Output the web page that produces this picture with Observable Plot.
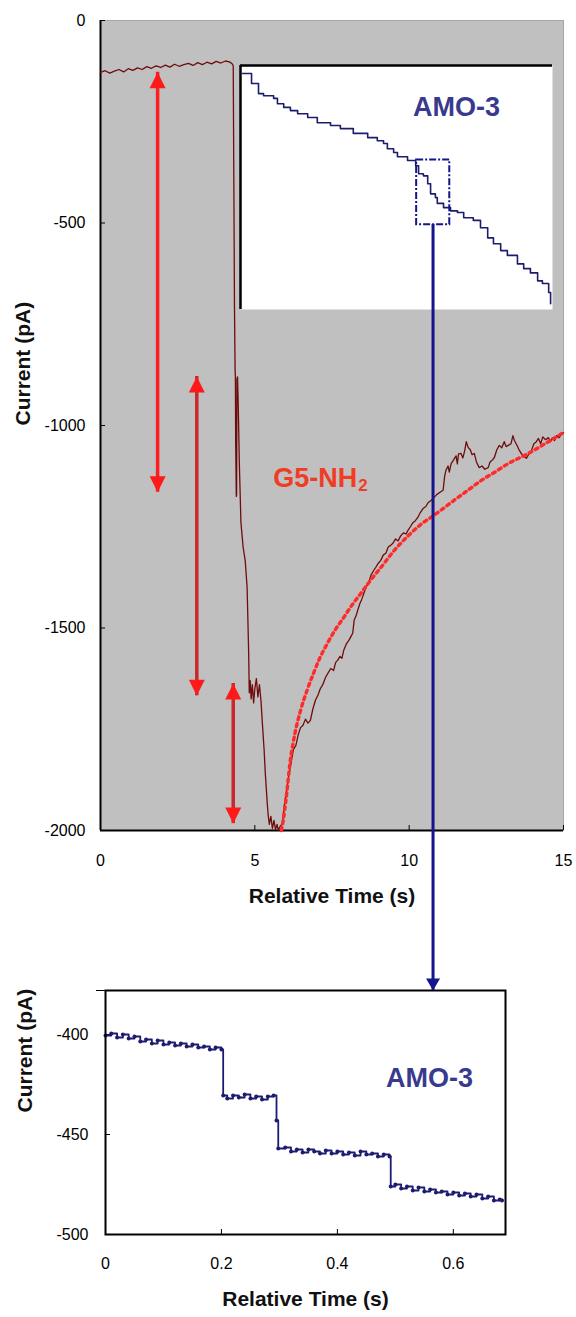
<!DOCTYPE html>
<html><head><meta charset="utf-8">
<script src="https://cdn.jsdelivr.net/npm/d3@7"></script>
<script src="https://cdn.jsdelivr.net/npm/@observablehq/plot@0.6"></script>
<style>
body{margin:0;background:#fff;}
#wrap{position:relative;width:576px;height:1317px;overflow:hidden;background:#fff;}
#wrap svg{position:absolute;}
</style></head><body><div id="wrap"></div>
<script>
// ---------- main trace (G5-NH2) ----------
const mainT = [0,0.15,0.3,0.45,0.6,0.75,0.9,1.05,1.2,1.35,1.5,1.65,1.8,1.95,2.1,2.25,2.4,2.55,2.7,2.85,3.0,3.15,3.3,3.45,3.6,3.75,3.9,4.05,4.2,4.28,
 4.30,4.32,4.34,4.36,4.37,4.38,4.40,4.41,4.42,4.44,4.46,4.50,4.55,4.62,4.69,4.75,4.80,4.82,4.85,4.88,4.92,4.96,5.00,5.05,5.10,5.15,5.20,5.24,5.30,5.34,5.40,5.43,5.47,5.52,5.57,5.62,5.67,5.72,5.76,5.82,5.89,5.95,
 6.02,6.09,6.18,6.25,6.33,6.40,6.48,6.56,6.64,6.72,6.80,6.88,6.96,7.05,7.12,7.20,7.29,7.38,7.46,7.55,7.62,7.68,7.76,7.82,7.88,7.96,8.05,8.12,8.17,8.22,8.28,8.33,8.40,8.46,8.53,8.60,8.68,8.76,8.85,8.92,9.00,9.08,9.16,9.25,9.32,9.40,9.48,9.56,9.64,9.73,9.82,9.90,9.96,
 10.04,10.12,10.20,10.28,10.36,10.45,10.54,10.62,10.71,10.80,10.90,11.00,11.10,11.15,11.19,11.26,11.30,11.36,11.44,11.52,11.56,11.60,11.68,11.74,11.80,11.85,11.91,11.98,12.04,12.11,12.18,12.27,12.36,12.45,12.56,12.62,12.70,12.76,12.84,12.92,13.00,13.08,13.14,13.21,13.30,13.36,13.41,13.50,13.56,13.63,13.70,13.80,13.88,13.96,14.04,14.12,14.19,14.26,14.33,14.42,14.51,14.58,14.64,14.71,14.78,14.86,14.94,15.00];
const mainV = [-128,-124,-130,-125,-121,-127,-119,-123,-117,-121,-114,-118,-112,-116,-110,-115,-108,-113,-109,-106,-111,-104,-109,-103,-107,-101,-105,-100,-103,-108,
 -112,-400,-700,-860,-880,-1050,-1175,-1170,-885,-880,-940,-1100,-1240,-1300,-1335,-1400,-1560,-1660,-1630,-1675,-1640,-1685,-1650,-1625,-1670,-1640,-1680,-1730,-1800,-1860,-1930,-1960,-1985,-1965,-1995,-1975,-1998,-1985,-1999,-1990,-1983,-1940,
 -1905,-1869,-1830,-1800,-1790,-1765,-1746,-1740,-1725,-1735,-1728,-1700,-1679,-1665,-1650,-1640,-1622,-1610,-1600,-1605,-1585,-1580,-1570,-1575,-1555,-1540,-1530,-1520,-1513,-1480,-1470,-1457,-1440,-1430,-1415,-1400,-1390,-1370,-1358,-1350,-1340,-1333,-1320,-1315,-1300,-1296,-1290,-1280,-1285,-1272,-1265,-1268,-1259,
 -1250,-1240,-1235,-1227,-1215,-1205,-1200,-1190,-1185,-1178,-1170,-1165,-1160,-1125,-1111,-1100,-1115,-1094,-1085,-1075,-1095,-1070,-1069,-1080,-1062,-1040,-1054,-1060,-1072,-1069,-1090,-1104,-1100,-1108,-1104,-1090,-1085,-1079,-1060,-1049,-1055,-1040,-1052,-1049,-1045,-1025,-1037,-1050,-1060,-1069,-1075,-1081,-1070,-1062,-1045,-1040,-1032,-1045,-1028,-1035,-1030,-1040,-1030,-1037,-1025,-1030,-1020,-1018];

// ---------- fitted recovery (dotted) ----------
const fitT = [5.86,5.92,6.00,6.15,6.30,6.48,6.70,6.90,7.10,7.35,7.60,7.88,8.15,8.43,8.75,9.08,9.50,10.00,10.40,10.80,11.45,11.90,12.33,12.80,13.21,13.86,14.40,14.94,15.00];
const fitV = [-2000,-1975,-1930,-1827,-1760,-1704,-1652,-1612,-1575,-1538,-1505,-1474,-1443,-1415,-1382,-1351,-1310,-1270,-1243,-1222,-1185,-1160,-1136,-1114,-1094,-1069,-1045,-1020,-1017];

// ---------- double arrows ----------
const arrowT = [1.85, 3.12, 4.30];
const arrowTop = [-128, -879, -1637];
const arrowBottom = [-1165, -1667, -1983];

const mainXTicks = [0, 5, 10, 15];
const mainYTicks = [0, -500, -1000, -1500, -2000];
const g5Label = {t: 5.6, v: -1131};

// ---------- inset (AMO-3 overview) ----------
const insetT = [0.04,0.21,0.23,0.33,0.375,0.48,0.69,0.77,0.90,1.04,1.19,1.40,1.60,1.875,2.08,2.35,2.65,2.85,2.98,3.06,3.19,3.27,3.48,3.65,3.71,3.81,3.90,3.96,4.06,4.10,4.23,4.375,4.52,4.65,4.85,5.0,5.15,5.27,5.42,5.56,5.77,5.90,6.04,6.19,6.29,6.42,6.46];
const insetV = [-215,-215,-234,-234,-253,-257,-262,-272,-279,-285,-291,-298,-308,-313,-319,-328,-336,-342,-347,-357,-364,-372,-379,-389,-404,-408,-423,-442,-449,-460,-468,-474,-477,-487,-492,-506,-525,-536,-549,-558,-574,-583,-591,-606,-611,-628,-649];
const insetXDomain = [0, 6.5];
const insetYDomain = [-660, -200];
const zoomBox = {t1: 3.67, t2: 4.36, v1: -378, v2: -500};
const insetLabel = {t: 4.5, v: -279};

// ---------- zoomed trace (AMO-3 steps) ----------
const zoomT = [0.00,0.01,0.02,0.03,0.04,0.05,0.06,0.07,0.08,0.09,0.10,0.11,0.12,0.13,0.14,0.15,0.16,0.17,0.18,0.19,0.20,0.203,
 0.21,0.22,0.23,0.24,0.25,0.26,0.27,0.28,0.29,0.295,0.298,
 0.31,0.32,0.33,0.34,0.35,0.36,0.37,0.38,0.39,0.40,0.41,0.42,0.43,0.44,0.45,0.46,0.47,0.48,0.49,0.492,
 0.50,0.51,0.52,0.53,0.54,0.55,0.56,0.57,0.58,0.59,0.60,0.61,0.62,0.63,0.64,0.65,0.66,0.67,0.68,0.684];
const zoomV = [-400.5,-399.5,-401.5,-400,-402,-401,-403.5,-402.5,-404.5,-403,-405,-404,-405.5,-404.5,-406,-405,-406.5,-406,-407.5,-406.5,-407.5,-430.5,
 -432,-430.5,-431.5,-430,-432,-431,-432.5,-431,-430.5,-443,-457,
 -456.5,-458.5,-457.5,-459,-457.5,-458.5,-459.5,-458,-459.5,-458.5,-460,-459,-460.5,-458.5,-460,-459.5,-461,-460,-461,-476,
 -475,-477,-476,-478,-476.5,-478.5,-477.5,-479,-478.5,-480,-479,-480.5,-479.5,-481,-480,-482,-481,-483,-482.5,-483];
const zoomXTicks = [0, 0.2, 0.4, 0.6];
const zoomYTicks = [-400, -450, -500];
const zoomXDomain = [0, 0.69];
const zoomYDomain = [-500, -378];
const zoomLabel = {t: 0.559, v: -422};
const linkT = 0.565;      // where the zoom link meets the lower chart
const linkTopV = 5;       // upper end of the link (inset box bottom)

// ---------- styles ----------
const FONT = "'Liberation Sans', Arial, sans-serif";
const triUp = {draw(c){ c.moveTo(0,0); c.lineTo(-8,16); c.lineTo(8,16); c.closePath(); }};
const triDown = {draw(c){ c.moveTo(0,0); c.lineTo(-8,-16); c.lineTo(8,-16); c.closePath(); }};
const triDownSmall = {draw(c){ c.moveTo(0,0); c.lineTo(-7,-12); c.lineTo(7,-12); c.closePath(); }};
const svgStyle = {fontFamily: FONT, background: "transparent", overflow: "visible"};
const fmt = d => String(d);

const mainPts = mainT.map((t, i) => ({t, v: mainV[i]}));
const fitPts = fitT.map((t, i) => ({t, v: fitV[i]}));
const arrows = arrowT.map((t, i) => ({t, top: arrowTop[i], bottom: arrowBottom[i], i}));
const insetPts = insetT.map((t, i) => ({t, v: insetV[i]}));
const zoomPts = zoomT.map((t, i) => ({t, v: zoomV[i]}));

const wrap = document.getElementById("wrap");

// ---------- main chart ----------
const main = Plot.plot({
  width: 576, height: 900,
  marginLeft: 100, marginRight: 13, marginTop: 20, marginBottom: 70,
  x: {domain: [0, 15]}, y: {domain: [-2000, 0]},
  style: svgStyle,
  marks: [
    Plot.frame({fill: "#c0c0c0", stroke: "#a6a6a6"}),
    Plot.axisX({ticks: mainXTicks, tickSize: -5, tickPadding: 29, fontSize: 16, tickFormat: fmt, label: null}),
    Plot.axisY({ticks: mainYTicks, tickSize: -5, tickPadding: 20, fontSize: 16, tickFormat: fmt, label: null}),
    Plot.ruleX([0], {stroke: "black", strokeWidth: 2}),
    Plot.ruleY([-2000], {stroke: "black", strokeWidth: 2}),
    Plot.ruleX(arrows.filter(a => a.i === 0), {x: "t", y1: "top", y2: "bottom", stroke: "#ff1e1e", strokeWidth: 3.5}),
    Plot.ruleX(arrows.filter(a => a.i > 0), {x: "t", y1: "top", y2: "bottom", stroke: "#c8282c", strokeWidth: 3.5}),
    Plot.dot(arrows, {x: "t", y: "top", symbol: triUp, fill: "#ff1a1a", stroke: null}),
    Plot.dot(arrows, {x: "t", y: "bottom", symbol: triDown, fill: "#ff1a1a", stroke: null}),
    Plot.line(mainPts, {x: "t", y: "v", stroke: "#6e0c0c", strokeWidth: 1.3}),
    Plot.line(fitPts, {x: "t", y: "v", curve: "monotone-x", stroke: "#ff2a2a", strokeWidth: 3.4, strokeDasharray: "3,4"}),
    Plot.text([g5Label], {x: "t", y: "v", text: () => "G5-NH", textAnchor: "start", fontSize: 27, fontWeight: "bold", fill: "#f03c24"}),
    Plot.text([g5Label], {x: "t", y: "v", text: () => "2", textAnchor: "start", dx: 85, dy: 7, fontSize: 17, fontWeight: "bold", fill: "#f03c24"}),
    Plot.text(["Relative Time (s)"], {text: d => d, frameAnchor: "bottom", dy: 72, fontSize: 21, fontWeight: "bold", fill: "#111"}),
    Plot.text(["Current (pA)"], {text: d => d, frameAnchor: "left", rotate: -90, dx: -77, fontSize: 21, fontWeight: "bold", fill: "#111"})
  ]
});
main.style.left = "0px"; main.style.top = "0px"; main.style.zIndex = 1;
wrap.appendChild(main);

// ---------- inset ----------
const inset = Plot.plot({
  width: 312, height: 244, marginLeft: 0, marginRight: 0, marginTop: 0, marginBottom: 0,
  x: {domain: insetXDomain, axis: null}, y: {domain: insetYDomain, axis: null},
  style: svgStyle,
  marks: [
    Plot.frame({fill: "white"}),
    Plot.ruleX([insetXDomain[0]], {stroke: "black", strokeWidth: 2.5}),
    Plot.ruleY([insetYDomain[1]], {stroke: "black", strokeWidth: 2.5}),
    Plot.line(insetPts, {x: "t", y: "v", curve: "step-after", stroke: "#1c1c6e", strokeWidth: 1.6}),
    Plot.rect([zoomBox], {x1: "t1", x2: "t2", y1: "v1", y2: "v2", fill: "none", stroke: "#14148c", strokeWidth: 2, strokeDasharray: "7,2,2,2"}),
    Plot.text([insetLabel], {x: "t", y: "v", text: () => "AMO-3", fontSize: 27, fontWeight: "bold", fill: "#393a8e"})
  ]
});
inset.style.left = "240px"; inset.style.top = "65px"; inset.style.zIndex = 2;
wrap.appendChild(inset);

// ---------- zoomed chart ----------
const zoom = Plot.plot({
  width: 576, height: 357,
  marginLeft: 105, marginRight: 71, marginTop: 30, marginBottom: 83,
  x: {domain: zoomXDomain}, y: {domain: zoomYDomain},
  style: svgStyle,
  marks: [
    Plot.frame({fill: "white"}),
    Plot.axisX({ticks: zoomXTicks, tickSize: -5, tickPadding: 28, fontSize: 16, tickFormat: fmt, label: null}),
    Plot.axisY({ticks: zoomYTicks, tickSize: -5, tickPadding: 22, fontSize: 16, tickFormat: fmt, label: null}),
    Plot.axisY({ticks: [zoomYDomain[1]], tickSize: 9, tickFormat: () => "", label: null}),
    Plot.line(zoomPts, {x: "t", y: "v", curve: "step-after", stroke: "#1c1c72", strokeWidth: 1.8}),
    Plot.dot(zoomPts, {x: "t", y: "v", r: 2, fill: "#1c1c72", stroke: null}),
    Plot.frame({stroke: "black", strokeWidth: 2}),
    Plot.text([zoomLabel], {x: "t", y: "v", text: () => "AMO-3", fontSize: 27, fontWeight: "bold", fill: "#393a8e"}),
    Plot.ruleX([linkT], {y1: zoomYDomain[1], y2: linkTopV, stroke: "#14148c", strokeWidth: 3}),
    Plot.dot([linkT], {x: d => d, y: zoomYDomain[1], symbol: triDownSmall, fill: "#14148c", stroke: null}),
    Plot.text(["Relative Time (s)"], {text: d => d, frameAnchor: "bottom", dy: 71, fontSize: 21, fontWeight: "bold", fill: "#111"}),
    Plot.text(["Current (pA)"], {text: d => d, frameAnchor: "left", rotate: -90, dx: -80, fontSize: 21, fontWeight: "bold", fill: "#111"})
  ]
});
zoom.style.left = "0px"; zoom.style.top = "960px"; zoom.style.zIndex = 3;
wrap.appendChild(zoom);
</script></body></html>
